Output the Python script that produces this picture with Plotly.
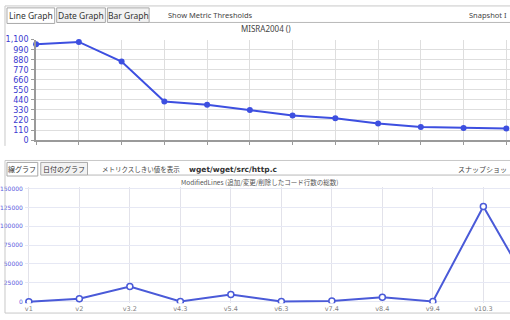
import plotly.graph_objects as go

W, H = 510, 320

# ---------------- data ----------------
top_title = "MISRA2004 ()"
top_values = [1050, 1075, 860, 423, 387, 330, 270, 238, 181, 142, 131, 128]
top_yticks = [0, 110, 220, 330, 440, 550, 660, 770, 880, 990, 1100]

bot_title = "ModifiedLines (追加/変更/削除したコード行数の総数)"
bot_categories = ["v1", "v2", "v3.2", "v4.3", "v5.4", "v6.3", "v7.4", "v8.4", "v9.4", "v10.3", "v11.2"]
bot_values = [0, 3900, 20100, 300, 9400, 300, 900, 5900, 200, 126300, 10000]
bot_yticks = [0, 25000, 50000, 75000, 100000, 125000, 150000]


def X(px):
    return px / W


def Y(py):
    return 1 - py / H


fig = go.Figure()

LINE = "#3d4fe0"
LINE2 = "#4a5ad8"

fig.add_trace(go.Scatter(
    x=list(range(len(top_values))), y=top_values, mode="lines+markers",
    line=dict(color=LINE, width=2), marker=dict(color=LINE, size=6, symbol="circle"),
    xaxis="x", yaxis="y", cliponaxis=False, showlegend=False, hoverinfo="skip"))

fig.add_trace(go.Scatter(
    x=list(range(len(bot_values))), y=bot_values, mode="lines+markers",
    line=dict(color=LINE2, width=2),
    marker=dict(color="white", size=6, symbol="circle", line=dict(color=LINE2, width=1.5)),
    xaxis="x2", yaxis="y2", cliponaxis=True, showlegend=False, hoverinfo="skip"))

# top axes geometry
t_x0, t_step = 33.3, 43.0
t_y0, t_y1 = 140.0, 36.7
fig.update_layout(
    xaxis=dict(domain=[X(t_x0), 1], range=[0, (W - t_x0) / t_step], anchor="y",
               tickvals=list(range(len(top_values))), ticktext=[""] * len(top_values),
               showgrid=True, gridcolor="#dedede", gridwidth=1, zeroline=False,
               showline=True, linecolor="#9a9a9a", linewidth=2,
               ticks="outside", ticklen=3, tickcolor="#9a9a9a", fixedrange=True),
    yaxis=dict(domain=[Y(t_y0), Y(t_y1)], range=[0, 1100], anchor="x",
               tickvals=top_yticks, tickformat=",d",
               tickfont=dict(family="DejaVu Sans", size=8, color="#3a3ad0"),
               showgrid=True, gridcolor="#dedede", zeroline=False,
               showline=True, linecolor="#9a9a9a", linewidth=2,
               ticks="outside", ticklen=3, tickcolor="#9a9a9a", ticklabelstandoff=1),
)

# bottom axes geometry
b_x0, b_step = 26.0, 50.8
b_zero, b_per = 306.3, 19.4 / 25000
b_left = 22.0
b_top = 188.0
b_bot = 308.0
fig.update_layout(
    xaxis2=dict(domain=[X(b_left), 1],
                range=[-(b_x0 - b_left) / b_step, (W - b_x0) / b_step], anchor="y2",
                tickvals=list(range(len(bot_categories))), ticktext=bot_categories,
                tickfont=dict(family="DejaVu Sans", size=6.5, color="#808080"),
                showgrid=True, gridcolor="#e2e2ea", zeroline=False, showline=False,
                ticks="", ticklabelstandoff=0),
    yaxis2=dict(domain=[Y(b_bot), Y(b_top)],
                range=[-(b_bot - b_zero) / b_per, (b_zero - b_top) / b_per], anchor="x2",
                tickvals=bot_yticks, tickformat="d",
                tickfont=dict(family="DejaVu Sans", size=6, color="#5a5ae0"),
                showgrid=True, gridcolor="#e6e8f4", zeroline=False, showline=False,
                ticks="", ticklabelstandoff=1),
)

shapes = []
ann = []


def rect(x0, y0, x1, y1, line="#a0a0a0", fill="rgba(0,0,0,0)", w=1):
    shapes.append(dict(type="rect", xref="paper", yref="paper",
                       x0=X(x0), x1=X(x1), y0=Y(y1), y1=Y(y0),
                       line=dict(color=line, width=w), fillcolor=fill, layer="above"))


def hline(x0, x1, y, color="#b0b0b0", w=1):
    shapes.append(dict(type="line", xref="paper", yref="paper",
                       x0=X(x0), x1=X(x1), y0=Y(y), y1=Y(y),
                       line=dict(color=color, width=w), layer="above"))


def vline(x, y0, y1, color="#b0b0b0", w=1):
    shapes.append(dict(type="line", xref="paper", yref="paper",
                       x0=X(x), x1=X(x), y0=Y(y0), y1=Y(y1),
                       line=dict(color=color, width=w), layer="above"))


def text(t, x, y, size=9, color="#333333", anchor="left", bold=False, family="DejaVu Sans"):
    ann.append(dict(text=("<b>%s</b>" % t) if bold else t, x=X(x), y=Y(y),
                    xref="paper", yref="paper", xanchor=anchor, yanchor="middle",
                    showarrow=False, font=dict(family=family, size=size, color=color)))


# ----- top panel frame -----
hline(2, 510, 2, "#c8c8c8")
vline(2, 2, 146, "#c8c8c8")
hline(147, 510, 19, "#b8b8b8")
rect(4, 4, 52, 20, line="#a8a8a8", fill="white")
rect(54, 4, 103, 19, line="#a8a8a8", fill="#f2f2f2")
rect(105, 4, 147, 19, line="#a8a8a8", fill="#f2f2f2")
text("Line Graph", 28, 12, 8.5, "#333333", "center", family="Noto Sans")
text("Date Graph", 78.5, 12, 8.5, "#333333", "center", family="Noto Sans")
text("Bar Graph", 126, 12, 8.5, "#333333", "center", family="Noto Sans")
text("Show Metric Thresholds", 164, 11, 7.5, "#444444", family="Noto Sans")
text("Snapshot I", 509, 11, 7.5, "#444444", "right", family="Noto Sans")
text(top_title, 265, 25, 8, "#444444", "center", family="Noto Sans")

# ----- bottom panel frame -----
hline(2, 510, 161, "#c8c8c8")
vline(2, 161, 318, "#c8c8c8")
hline(2, 510, 318, "#c8c8c8")
hline(85, 510, 176, "#b8b8b8")
rect(4, 163, 35, 177, line="#a8a8a8", fill="white")
rect(38, 163, 85, 176, line="#a8a8a8", fill="#f2f2f2")
text("線グラフ", 19.5, 170, 7, "#333333", "center", family="Noto Sans CJK JP")
text("日付のグラフ", 61.5, 170, 7, "#333333", "center", family="Noto Sans CJK JP")
text("メトリクスしきい値を表示", 98, 170, 6.5, "#444444", family="Noto Sans CJK JP")
text("wget/wget/src/http.c", 185, 170, 7.5, "#333333", bold=True)
text("スナップショッ", 509, 170, 7, "#444444", "right", family="Noto Sans CJK JP")
text(bot_title, 258, 183, 6.5, "#555555", "center", family="Noto Sans CJK JP")

fig.update_layout(
    width=W, height=H, margin=dict(l=0, r=0, t=0, b=0),
    paper_bgcolor="white", plot_bgcolor="white",
    shapes=shapes, annotations=ann, showlegend=False,
)

fig.write_html("out.html")
